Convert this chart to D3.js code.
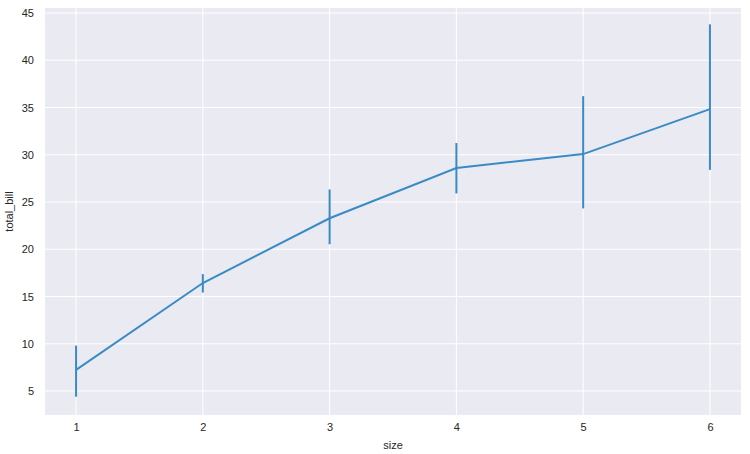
<!DOCTYPE html>
<html>
<head>
    <meta charset="utf-8">
    <style>
        body { margin: 0; background: #fff; }
        svg { display: block; font-family: Arial, "Liberation Sans", sans-serif; }
        .tick text { font-size: 11px; fill: #262626; }
        .axis-label { font-size: 11px; fill: #262626; }
    </style>
</head>
<body>
<svg width="750" height="454"></svg>
<script src="https://d3js.org/d3.v7.min.js"></script>
<script>
    // mean total_bill per party size, with the error bar ends
    let sizes = [1, 2, 3, 4, 5, 6];
    let means = [7.24, 16.43, 23.28, 28.60, 30.07, 34.83];
    let lows  = [4.4, 15.42, 20.53, 25.91, 24.32, 28.4];
    let highs = [9.8, 17.37, 26.33, 31.24, 36.2, 43.8];
    let xTicks = [1, 2, 3, 4, 5, 6];
    let yTicks = [5, 10, 15, 20, 25, 30, 35, 40, 45];

    let margin = { top: 8, right: 9, bottom: 39, left: 45 };
    let width = 750, height = 454;
    let lineColor = "#3a8bc4";

    let svg = d3.select("svg");

    let x = d3.scaleLinear()
        .domain([0.755, 6.245])
        .range([margin.left, width - margin.right]);

    let y = d3.scaleLinear()
        .domain([2.46, 45.53])
        .range([height - margin.bottom, margin.top]);

    svg.append("rect")
        .attr("x", margin.left)
        .attr("y", margin.top)
        .attr("width", width - margin.left - margin.right)
        .attr("height", height - margin.top - margin.bottom)
        .attr("fill", "#eaeaf2");

    // grid
    svg.append("g")
        .selectAll("line")
        .data(yTicks)
        .join("line")
        .attr("x1", margin.left)
        .attr("x2", width - margin.right)
        .attr("y1", d => y(d))
        .attr("y2", d => y(d))
        .attr("stroke", "#fff")
        .attr("stroke-width", 1);

    svg.append("g")
        .selectAll("line")
        .data(xTicks)
        .join("line")
        .attr("x1", d => x(d))
        .attr("x2", d => x(d))
        .attr("y1", margin.top)
        .attr("y2", height - margin.bottom)
        .attr("stroke", "#fff")
        .attr("stroke-width", 1);

    let xAxis = svg.append("g")
        .attr("transform", `translate(0,${height - margin.bottom})`)
        .call(d3.axisBottom(x).tickValues(xTicks).tickSize(0).tickPadding(8).tickFormat(d3.format("d")))
        .call(g => g.select(".domain").remove());

    let yAxis = svg.append("g")
        .attr("transform", `translate(${margin.left},0)`)
        .call(d3.axisLeft(y).tickValues(yTicks).tickSize(0).tickPadding(11).tickFormat(d3.format("d")))
        .call(g => g.select(".domain").remove());

    svg.append("text")
        .attr("class", "axis-label")
        .attr("x", x(3.5))
        .attr("y", 449)
        .attr("text-anchor", "middle")
        .text("size");

    svg.append("text")
        .attr("class", "axis-label")
        .attr("transform", `translate(13,${(margin.top + height - margin.bottom) / 2}) rotate(-90)`)
        .attr("text-anchor", "middle")
        .text("total_bill");

    let rows = sizes.map((s, i) => ({ s: s, m: means[i], lo: lows[i], hi: highs[i] }));

    let line = d3.line()
        .x(d => x(d.s))
        .y(d => y(d.m));

    svg.append("path")
        .datum(rows)
        .attr("fill", "none")
        .attr("stroke", lineColor)
        .attr("stroke-width", 2)
        .attr("d", line);

    svg.append("g")
        .selectAll("line")
        .data(rows)
        .join("line")
        .attr("x1", d => x(d.s))
        .attr("x2", d => x(d.s))
        .attr("y1", d => y(d.lo))
        .attr("y2", d => y(d.hi))
        .attr("stroke", lineColor)
        .attr("stroke-width", 2);
</script>
</body>
</html>
